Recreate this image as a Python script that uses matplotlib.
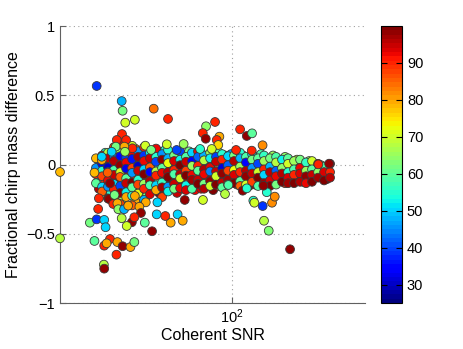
#!/usr/bin/env python

import matplotlib
matplotlib.use('Agg')
import matplotlib.pyplot as plt
from matplotlib.ticker import NullLocator

plt.rcParams['font.family'] = ['Liberation Sans', 'DejaVu Sans']
plt.rcParams['mathtext.default'] = 'regular'

# dense band, read column by column (snr of the column, then diffs / masses)
col_snr = [33.4, 35.1, 36.8, 38.6, 40.6, 42.6, 44.7, 46.9, 49.2, 51.6,
           54.2, 56.9, 59.7, 62.7, 65.8, 69.0, 72.4, 76.0, 79.8, 83.8,
           87.9, 92.3, 96.8, 101.6, 106.7, 111.9, 117.5, 123.3, 129.4, 135.8,
           142.6, 149.6, 157.0, 164.8, 173.0, 181.5, 190.5, 200.0, 209.9, 220.3]
col_diff = [
    [0.045, -0.025, -0.07, -0.135],
    [0.065, 0.005, -0.045, -0.085, -0.16, -0.195],
    [0.085, 0.045, -0.02, -0.055, -0.115, -0.16, -0.245],
    [0.125, 0.06, 0.025, -0.04, -0.075, -0.14, -0.18, -0.265],
    [0.15, 0.095, 0.06, -0.005, -0.055, -0.09, -0.155, -0.205, -0.285],
    [0.115, 0.05, 0.015, -0.03, -0.1, -0.135, -0.2, -0.235],
    [0.135, 0.075, 0.04, -0.025, -0.06, -0.13, -0.165, -0.225, -0.295],
    [0.095, 0.055, -0.01, -0.045, -0.11, -0.145, -0.21],
    [0.125, 0.065, 0.025, -0.035, -0.07, -0.14, -0.175, -0.255],
    [0.085, 0.045, -0.02, -0.055, -0.12, -0.15, -0.215],
    [0.115, 0.055, 0.02, -0.05, -0.08, -0.15, -0.185],
    [0.075, 0.035, -0.025, -0.06, -0.13, -0.165, -0.235],
    [0.105, 0.045, 0.01, -0.055, -0.09, -0.16, -0.195],
    [0.065, 0.025, -0.04, -0.07, -0.14, -0.175],
    [0.095, 0.035, -0.005, -0.07, -0.1, -0.17],
    [0.055, 0.02, -0.045, -0.08, -0.15, -0.185],
    [0.085, 0.025, -0.01, -0.075, -0.11, -0.175],
    [0.095, 0.055, -0.01, -0.045, -0.11, -0.14],
    [0.065, 0.03, -0.035, -0.07, -0.14, -0.175],
    [0.085, 0.045, -0.02, -0.05, -0.12, -0.155],
    [0.055, 0.02, -0.05, -0.085, -0.145],
    [0.075, 0.035, -0.025, -0.065, -0.13, -0.165],
    [0.06, -0.005, -0.045, -0.11, -0.145],
    [0.065, 0.025, -0.04, -0.075, -0.135],
    [0.085, 0.045, -0.015, -0.055, -0.12, -0.155],
    [0.055, 0.015, -0.045, -0.085, -0.145],
    [0.075, 0.035, -0.025, -0.065, -0.125],
    [0.045, 0.005, -0.055, -0.095, -0.155],
    [0.065, 0.025, -0.035, -0.075, -0.135],
    [0.045, -0.015, -0.055, -0.115, -0.155],
    [0.055, 0.015, -0.045, -0.085, -0.145],
    [0.035, -0.025, -0.065, -0.125],
    [0.045, 0.005, -0.055, -0.095, -0.135],
    [0.025, -0.035, -0.075, -0.135],
    [0.035, -0.025, -0.065, -0.125],
    [0.015, -0.045, -0.085, -0.135],
    [0.025, -0.035, -0.075, -0.125],
    [0.005, -0.055, -0.095],
    [-0.015, -0.055, -0.115],
    [0.005, -0.055, -0.095],
]
col_mass = [
    [78, 45, 90, 60],
    [92, 33, 55, 88, 50, 85],
    [68, 95, 30, 62, 92, 45, 97],
    [88, 45, 96, 58, 95, 50, 90, 82],
    [92, 65, 35, 98, 70, 85, 40, 98, 88],
    [96, 40, 92, 33, 60, 95, 52, 80],
    [70, 92, 36, 88, 45, 99, 60, 55, 85],
    [45, 97, 30, 95, 55, 88, 72],
    [90, 38, 92, 50, 99, 66, 90, 48],
    [52, 95, 85, 35, 96, 58, 93],
    [92, 55, 40, 68, 90, 50, 80],
    [45, 98, 60, 92, 56, 97, 88],
    [55, 48, 72, 96, 99, 45, 52],
    [62, 93, 90, 58, 95, 62],
    [40, 52, 99, 96, 70, 92],
    [58, 95, 88, 99, 52, 94],
    [50, 34, 65, 92, 97, 58],
    [92, 42, 90, 60, 95, 99],
    [48, 68, 96, 92, 62, 96],
    [66, 52, 92, 44, 98, 70],
    [40, 95, 95, 70, 99],
    [55, 90, 32, 98, 95, 60],
    [50, 42, 88, 97, 65],
    [62, 96, 72, 93, 99],
    [55, 48, 66, 90, 60, 85],
    [58, 35, 96, 98, 70],
    [52, 62, 45, 95, 88],
    [60, 40, 70, 99, 58],
    [56, 66, 90, 50, 97],
    [62, 48, 96, 94, 99],
    [58, 68, 42, 92, 62],
    [52, 64, 96, 99],
    [60, 70, 55, 93, 97],
    [66, 58, 90, 99],
    [62, 92, 94, 96],
    [56, 66, 98, 92],
    [70, 60, 95, 99],
    [92, 64, 97],
    [58, 93, 99],
    [98, 90, 96],
]

# second pass over the band, between the columns above
col2_snr = [34.2, 36.0, 37.7, 39.6, 41.6, 43.6, 45.8, 48.1, 50.4, 52.9,
            55.5, 58.3, 61.2, 64.2, 67.4, 70.7, 74.2, 77.9, 81.8, 85.9,
            90.1, 94.6, 99.2, 104.1, 109.3, 114.7, 120.4, 126.3, 132.6, 139.1,
            146.0, 153.3, 160.9, 168.8, 177.2, 186.0, 195.2, 204.8, 215.0]
col2_diff = [
    [0.025, -0.045, -0.115, -0.175],
    [0.085, 0.025, -0.035, -0.075, -0.125, -0.215],
    [0.055, -0.005, -0.045, -0.095, -0.145, -0.205],
    [0.105, 0.035, -0.015, -0.065, -0.115, -0.175, -0.235],
    [0.075, 0.025, -0.025, -0.065, -0.125, -0.185, -0.245],
    [0.095, 0.045, -0.015, -0.055, -0.105, -0.165, -0.205],
    [0.115, 0.055, 0.015, -0.035, -0.085, -0.145, -0.185, -0.265],
    [0.085, 0.025, -0.025, -0.065, -0.125, -0.175],
    [0.095, 0.055, 0.005, -0.045, -0.095, -0.155, -0.225],
    [0.065, 0.025, -0.035, -0.085, -0.125, -0.185],
    [0.095, 0.035, -0.015, -0.055, -0.115, -0.155, -0.205],
    [0.105, 0.065, 0.005, -0.045, -0.085, -0.145, -0.195],
    [0.075, 0.035, -0.025, -0.065, -0.125, -0.165],
    [0.055, 0.005, -0.045, -0.095, -0.145, -0.205],
    [0.065, 0.025, -0.035, -0.075, -0.135, -0.175],
    [0.095, 0.035, -0.005, -0.065, -0.105, -0.165],
    [0.055, 0.015, -0.045, -0.085, -0.145, -0.185],
    [0.085, 0.025, -0.015, -0.075, -0.115, -0.175],
    [0.045, 0.005, -0.055, -0.095, -0.155],
    [0.075, 0.015, -0.025, -0.085, -0.125, -0.185],
    [0.085, 0.045, -0.015, -0.055, -0.115, -0.155],
    [0.065, 0.005, -0.035, -0.095, -0.135],
    [0.075, 0.035, -0.025, -0.065, -0.125],
    [0.055, -0.005, -0.045, -0.105, -0.145],
    [0.065, 0.025, -0.035, -0.075, -0.135],
    [0.045, -0.015, -0.055, -0.115, -0.155],
    [0.055, 0.015, -0.045, -0.085, -0.145],
    [0.075, 0.025, -0.025, -0.075, -0.115],
    [0.045, 0.005, -0.055, -0.095, -0.145],
    [0.065, 0.015, -0.035, -0.085, -0.125],
    [0.035, -0.015, -0.065, -0.105],
    [0.055, 0.005, -0.045, -0.085, -0.135],
    [0.025, -0.025, -0.065, -0.115],
    [0.035, -0.015, -0.055, -0.105],
    [0.015, -0.035, -0.085, -0.125],
    [0.025, -0.025, -0.065, -0.105],
    [0.005, -0.045, -0.095],
    [-0.005, -0.055, -0.095],
    [-0.015, -0.065, -0.105],
]
col2_mass = [
    [38, 85, 52, 96],
    [55, 42, 92, 48, 88, 62],
    [36, 66, 40, 98, 85, 55],
    [45, 92, 34, 80, 96, 70, 92],
    [40, 58, 38, 92, 55, 99, 66],
    [62, 30, 70, 95, 44, 90, 97],
    [85, 46, 40, 66, 90, 50, 99, 80],
    [35, 55, 92, 62, 97, 84],
    [48, 90, 36, 58, 92, 99, 62],
    [60, 44, 96, 70, 88, 52],
    [38, 66, 50, 95, 60, 92, 98],
    [55, 35, 90, 45, 97, 80, 99],
    [42, 62, 38, 88, 99, 70],
    [50, 92, 56, 96, 88, 95],
    [34, 68, 46, 92, 99, 82],
    [62, 40, 95, 55, 90, 98],
    [45, 58, 36, 97, 72, 92],
    [66, 50, 88, 40, 99, 94],
    [55, 38, 70, 92, 98],
    [48, 35, 62, 96, 90, 99],
    [58, 44, 66, 90, 97, 82],
    [62, 52, 40, 99, 92],
    [45, 60, 92, 66, 96],
    [56, 68, 44, 98, 88],
    [62, 50, 58, 93, 99],
    [40, 64, 90, 96, 99],
    [66, 56, 92, 62, 97],
    [58, 44, 68, 95, 88],
    [52, 62, 98, 92, 96],
    [66, 56, 70, 99, 94],
    [60, 50, 92, 97],
    [64, 58, 66, 98, 90],
    [56, 68, 95, 99],
    [70, 62, 92, 97],
    [58, 66, 99, 94],
    [64, 56, 93, 98],
    [62, 92, 99],
    [66, 97, 92],
    [98, 60, 99],
]

# scattered points outside the band
out_snr = [33.6, 41.1, 41.4, 42.3, 45.7, 53.2, 59.7, 49.7, 67.7, 81.1,
           87.2, 79.0, 80.9, 90.3, 88.4, 89.5, 41.2, 39.5, 42.6, 44.8,
           25.0, 33.0, 106.7, 112.6, 117.5, 127.9, 103.3, 117.2, 218.6, 200.5,
           25.0, 31.8, 33.6, 35.7, 36.1, 33.0, 35.7, 37.4, 36.4, 39.7,
           41.4, 44.1, 45.5, 39.4, 35.6, 35.7, 52.5, 34.2, 34.0, 37.1,
           38.8, 38.4, 39.7, 40.0, 41.9, 43.3, 41.1, 44.6, 42.8, 49.5,
           54.5, 64.5, 67.2, 61.0, 58.4, 54.8, 49.9, 47.4, 48.0, 45.5,
           45.7, 97.1, 94.5, 109.0, 112.6, 118.7, 119.7, 128.0, 132.3, 138.0,
           141.1, 129.4, 134.4, 159.6, 128.7, 79.1, 68.3, 64.0, 77.3, 84.9,
           59.1, 39.2, 42.0, 42.2, 37.9, 52.1, 35.0, 36.7, 37.4, 35.0]
out_diff = [0.567, 0.458, 0.388, 0.302, 0.323, 0.403, 0.329, 0.136, 0.148, 0.276,
            0.307, 0.227, 0.186, 0.201, 0.177, 0.141, 0.220, 0.177, 0.177, 0.117,
            -0.054, -0.059, 0.254, 0.206, 0.225, 0.139, 0.105, 0.100, 0.006, 0.001,
            -0.533, -0.420, -0.396, -0.400, -0.453, -0.552, -0.586, -0.538, -0.569, -0.560,
            -0.590, -0.596, -0.560, -0.651, -0.723, -0.752, -0.482, -0.244, -0.321, -0.249,
            -0.220, -0.285, -0.280, -0.323, -0.323, -0.297, -0.388, -0.417, -0.444, -0.420,
            -0.360, -0.360, -0.406, -0.420, -0.372, -0.273, -0.273, -0.305, -0.350, -0.381,
            -0.227, -0.148, -0.213, -0.189, -0.172, -0.261, -0.276, -0.300, -0.200, -0.276,
            -0.232, -0.406, -0.478, -0.612, -0.153, -0.256, -0.256, 0.105, 0.112, 0.112,
            0.146, 0.129, 0.129, 0.092, 0.092, 0.105, 0.032, -0.059, -0.136, 0.056]
out_mass = [38, 48, 62, 70, 70, 84, 90, 70, 65, 64,
            90, 90, 98, 80, 90, 76, 90, 90, 90, 90,
            78, 78, 90, 98, 60, 82, 90, 90, 98, 90,
            68, 62, 38, 50, 50, 60, 90, 90, 80, 80,
            98, 80, 62, 90, 68, 98, 98, 90, 90, 98,
            62, 90, 80, 64, 48, 80, 68, 98, 70, 60,
            50, 50, 80, 80, 90, 50, 80, 80, 98, 90,
            80, 58, 68, 98, 55, 55, 70, 38, 55, 82,
            82, 68, 63, 98, 98, 70, 98, 40, 55, 70,
            70, 62, 80, 66, 50, 62, 80, 85, 98, 50]

snr = []
diff = []
mass = []
# second pass drawn first, bottom to top, so the overlaps do not all lean one way
for s, ds, ms in zip(col2_snr, col2_diff, col2_mass):
    snr += [s] * len(ds)
    diff += ds[::-1]
    mass += ms[::-1]
for s, ds, ms in zip(col_snr, col_diff, col_mass):
    snr += [s] * len(ds)
    diff += ds
    mass += ms
snr += out_snr
diff += out_diff
mass += out_mass

fig = plt.figure(figsize=(4.63, 3.49), dpi=100)
ax = fig.add_axes([0.1296, 0.1318, 0.6588, 0.7937])

cmap = plt.get_cmap('jet', 64)
sc = ax.scatter(snr, diff, c=mass, cmap=cmap, vmin=25, vmax=100, s=40,
                edgecolors='#3a3a3a', linewidths=0.6, clip_on=False, zorder=3)

ax.set_xscale('log')
ax.set_xlim(25, 292)
ax.set_ylim(-1, 1)
ax.set_xticks([100])
ax.set_xticklabels([r'$10^2$'])
ax.xaxis.set_minor_locator(NullLocator())
ax.set_yticks([-1, -0.5, 0, 0.5, 1])
ax.set_yticklabels(['\u22121', '\u22120.5', '0', '0.5', '1'])
ax.grid(True, linestyle=(0, (1, 3)), color='#a0a0a0', linewidth=0.8)
ax.set_axisbelow(True)
for side in ['top', 'right']:
    ax.spines[side].set_visible(False)
for side in ['left', 'bottom']:
    ax.spines[side].set_color('#606060')
ax.tick_params(direction='in', length=4, labelsize=10.5, color='#606060')
ax.set_xlabel('Coherent SNR', fontsize=11.5, labelpad=1)
ax.set_ylabel('Fractional chirp mass difference', fontsize=11.5)

cax = fig.add_axes([0.823, 0.1318, 0.0454, 0.7937])
cb = fig.colorbar(sc, cax=cax)
cb.set_ticks([30, 40, 50, 60, 70, 80, 90])
cb.ax.tick_params(direction='in', length=4, labelsize=10.5, left=True, right=True)
cb.outline.set_linewidth(0.8)

fig.savefig('out.png', dpi=100)
